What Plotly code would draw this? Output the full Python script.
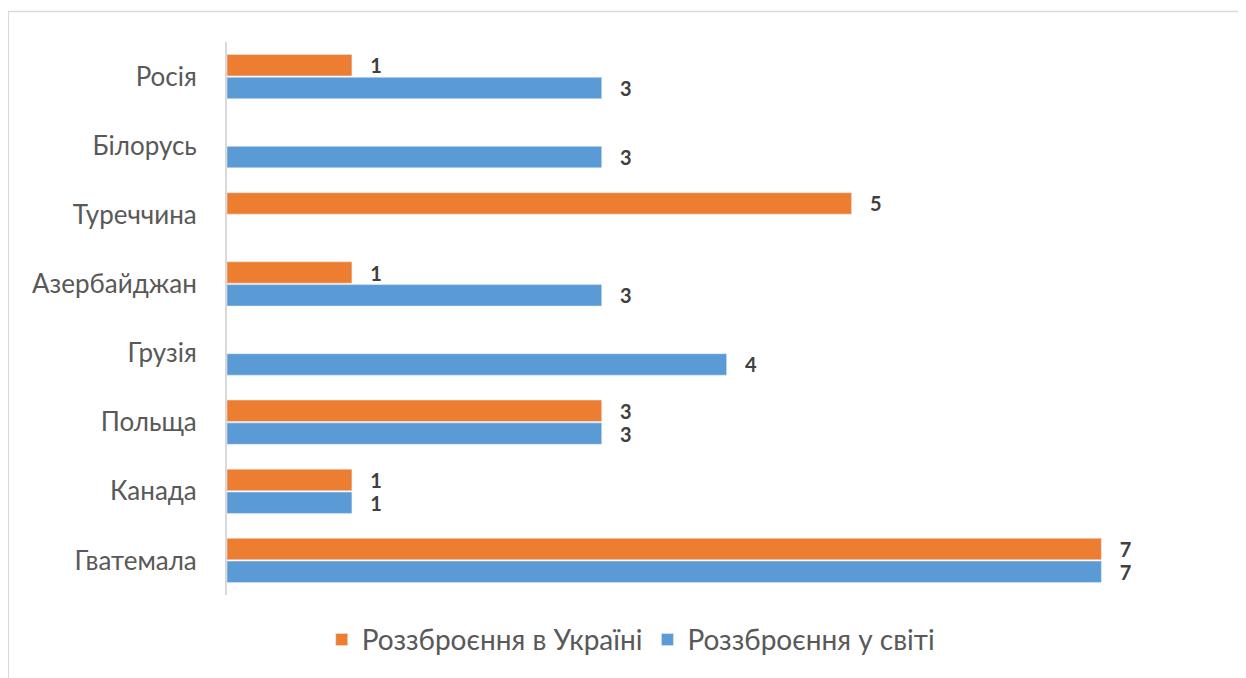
import plotly.graph_objs as go

# Categories bottom to top (plotly draws the first category at the bottom)
countries = ["Гватемала", "Канада", "Польща", "Грузія", "Азербайджан", "Туреччина", "Білорусь", "Росія"]
armed_world = [7, 1, 3, 4, 3, None, 3, 3]
armed_ukraine = [7, 1, 3, None, 1, 5, None, 1]

ORANGE = "#ED7D31"
BLUE = "#5B9BD5"
LABEL_FONT = dict(family="Lato, 'Open Sans', sans-serif", size=20, color="#404040")

fig = go.Figure()
# blue first so it sits below orange in each group
fig.add_trace(go.Bar(y=countries, x=armed_world, orientation="h", name="Роззброєння у світі",
                     marker=dict(color=BLUE), texttemplate="   <b>%{x}</b>",
                     textposition="outside", textfont=LABEL_FONT, constraintext="none",
                     cliponaxis=False))
fig.add_trace(go.Bar(y=countries, x=armed_ukraine, orientation="h", name="Роззброєння в Україні",
                     marker=dict(color=ORANGE), texttemplate="   <b>%{x}</b>",
                     textposition="outside", textfont=LABEL_FONT, constraintext="none",
                     cliponaxis=False))

# page body adds an 8px offset, so the figure is a bit smaller than the window
fig.update_layout(
    width=1238, height=670,
    paper_bgcolor="white", plot_bgcolor="white",
    margin=dict(l=219, r=11, t=34, b=83, autoexpand=False),
    barmode="group", bargap=0.34, bargroupgap=0.06,
    font=dict(family="Lato, 'Open Sans', sans-serif", size=20, color="#595959"),
    hovermode=False,
    legend=dict(orientation="h", traceorder="reversed", xref="container", yref="container",
                x=0.503, y=0.057, xanchor="center", yanchor="middle",
                font=dict(size=28, color="#595959"), itemwidth=30),
    shapes=[dict(type="rect", xref="paper", yref="paper", x0=-0.217, x1=1.05, y0=-0.25, y1=1.055,
                 line=dict(color="#D9D9D9", width=1.5), layer="below")],
)
fig.update_xaxes(range=[0, 8.07], visible=False, showgrid=False, zeroline=False)
fig.update_yaxes(showline=True, linecolor="#D9D9D9", linewidth=2, showgrid=False, ticks="",
                 automargin=False, ticklabelstandoff=23,
                 tickfont=dict(size=26, color="#595959"))

fig.write_html("out.html")
